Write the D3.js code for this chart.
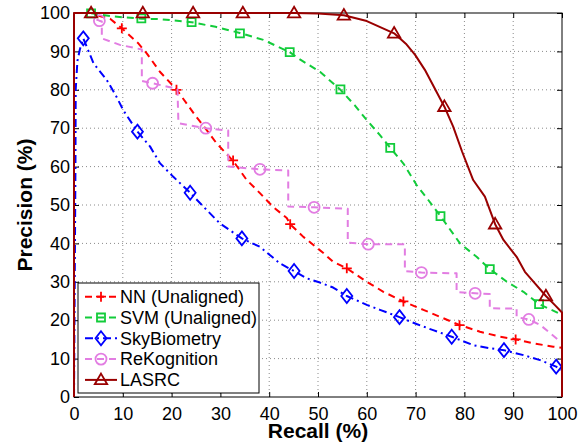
<!DOCTYPE html>
<html>
<head>
<meta charset="utf-8">
<script src="https://cdn.jsdelivr.net/npm/d3@7"></script>
<style>
  html, body { margin: 0; padding: 0; background: #fff; }
  svg { display: block; font-family: "Liberation Sans", Arial, Helvetica, sans-serif; }
</style>
</head>
<body>
<svg id="chart" width="583" height="444"></svg>
<script>
// Tick values for both axes
const xTicks = [0, 10, 20, 30, 40, 50, 60, 70, 80, 90, 100];
const yTicks = [0, 10, 20, 30, 40, 50, 60, 70, 80, 90, 100];

// Series names (legend order = drawing order)
const seriesNames = ["NN (Unaligned)", "SVM (Unaligned)", "SkyBiometry", "ReKognition", "LASRC"];

// Precision-recall curves: [recall %, precision %]
const nnCurve = [[5.0,99.3],[7.4,98.5],[9.8,96.0],[13.1,92.2],[14.9,89.5],[17.6,84.7],[21.0,80.1],[24.8,73.4],
  [27.2,69.5],[29.2,66.1],[32.6,61.5],[35.4,56.5],[38.1,53.1],[40.8,49.5],[43.6,46.6],[44.3,45.0],[47.0,41.7],
  [51.1,37.5],[53.1,35.2],[55.9,33.5],[60.0,30.0],[63.4,27.4],[67.6,24.8],[71.6,22.7],[75.7,20.5],[79.1,18.7],
  [83.2,17.0],[87.3,15.7],[90.6,15.0],[94.1,14.0],[98.2,13.1],[100,12.8]];
const nnMarks = [[9.8,96.0],[21.0,80.0],[32.6,61.6],[44.3,45.0],[55.9,33.5],[67.5,24.9],[79.0,18.7],[90.5,15.0]];

const svmCurve = [[3.5,99.9],[8.1,99.1],[13.9,98.5],[17.6,98.4],[24.1,97.6],[29.0,96.4],[34.0,94.8],[38.8,93.0],
  [44.2,89.8],[46.3,87.9],[50.4,84.7],[54.6,80.0],[57.5,76.0],[60.0,72.1],[62.7,68.2],[64.8,64.9],[67.5,60.8],
  [70.2,55.2],[72.6,51.3],[75.1,47.1],[79.1,40.0],[82.5,36.5],[85.2,33.3],[88.7,30.0],[92.1,27.4],[95.3,24.2],[100,21.4]];
const svmMarks = [[3.5,99.9],[13.8,98.6],[24.1,97.6],[34.0,94.7],[44.2,89.8],[54.6,80.1],[64.8,64.9],[75.1,47.1],[85.2,33.3],[95.3,24.2]];

const skyCurve = [[0,0],[0.3,60],[0.35,80],[0.7,87.5],[1.2,90.5],[1.9,93.4],[4.0,86.9],[6.7,82.6],[8.7,78.2],
  [10.1,74.7],[13.0,69.1],[15.6,65.2],[17.6,60.9],[20.3,57.4],[23.8,53.2],[26.5,49.6],[29.9,45.2],[34.4,41.3],
  [38.1,39.1],[42.2,34.8],[45.1,32.8],[47.7,30.9],[50.4,29.8],[53.1,28.5],[55.9,26.3],[60.0,24.0],[62.7,22.7],
  [66.7,20.8],[70.2,19.0],[73.6,17.4],[77.4,15.7],[81.8,13.5],[85.2,12.7],[88.1,12.2],[92.1,10.9],[95.5,9.6],
  [98.8,7.9],[100,7.0]];
const skyMarks = [[1.9,93.4],[13.0,69.1],[23.8,53.2],[34.4,41.3],[45.1,32.8],[55.9,26.3],[66.7,20.8],[77.4,15.7],[88.1,12.2],[98.8,7.9]];

const rekCurve = [[4.6,98.3],[5.2,98.0],[5.7,97.8],[5.7,93.4],[9.4,91.7],[13.9,90.5],[13.9,82.3],[16.1,81.7],
  [21.2,80.2],[21.4,71.3],[27.0,70.0],[31.6,69.4],[31.6,60.0],[38.1,59.3],[43.9,59.0],[43.9,49.6],[49.2,49.4],
  [56.1,49.0],[56.1,40.2],[60.3,39.8],[67.8,39.8],[67.8,32.8],[71.2,32.4],[78.4,32.2],[78.4,27.3],[82.2,27.0],
  [85.2,26.8],[85.2,23.1],[90.7,23.0],[90.7,20.8],[93.2,20.2],[95.5,18.8],[99.5,14.6]];
const rekMarks = [[5.2,98.0],[16.1,81.7],[27.0,70.0],[38.1,59.3],[49.2,49.4],[60.3,39.8],[71.2,32.4],[82.2,27.0],[93.2,20.2]];

const lasrcCurve = [[0,0],[0,100],[3.5,100],[14.1,100],[24.4,100],[34.6,100],[45.1,100],[50.0,99.9],[55.3,99.4],
  [60.0,97.9],[65.6,94.7],[68.0,92.0],[69.9,89.1],[71.9,85.2],[75.9,75.6],[77.7,70.4],[79.5,64.0],[81.8,56.5],
  [84.2,52.2],[86.3,45.0],[88.0,40.9],[90.7,36.5],[92.4,32.6],[94.5,29.5],[96.7,26.3],[98.5,24.0],[100,22.0],[100,0]];
const lasrcMarks = [[3.5,100],[14.1,100],[24.4,100],[34.6,100],[45.1,100],[55.3,99.4],[65.6,94.7],[75.9,75.6],[86.3,45.0],[96.7,26.3]];

// Visual settings per series
const series = [
  { name: seriesNames[0], curve: nnCurve,    marks: nnMarks,    color: "#ff0000", dash: "7,5",      marker: "plus" },
  { name: seriesNames[1], curve: svmCurve,   marks: svmMarks,   color: "#12cc3a", dash: "7,5",      marker: "square" },
  { name: seriesNames[2], curve: skyCurve,   marks: skyMarks,   color: "#0000ff", dash: "8,4,2,4",  marker: "diamond" },
  { name: seriesNames[3], curve: rekCurve,   marks: rekMarks,   color: "#e27de2", dash: "7,5",      marker: "circle" },
  { name: seriesNames[4], curve: lasrcCurve, marks: lasrcMarks, color: "#990000", dash: null,       marker: "triangle" }
];

const svg = d3.select("#chart");
const plotL = 74, plotR = 562, plotT = 13, plotB = 397;

const x = d3.scaleLinear().domain([0, 100]).range([plotL, plotR]);
const y = d3.scaleLinear().domain([0, 100]).range([plotB, plotT]);

// Dotted grid
const grid = svg.append("g").attr("class", "grid");
grid.selectAll("line.gx").data(xTicks.slice(1, -1)).join("line").attr("class", "gx")
  .attr("x1", d => x(d)).attr("x2", d => x(d)).attr("y1", plotT).attr("y2", plotB)
  .attr("stroke", "#8a8a8a").attr("stroke-width", 1).attr("stroke-dasharray", "1,3");
grid.selectAll("line.gy").data(yTicks.slice(1, -1)).join("line").attr("class", "gy")
  .attr("x1", plotL).attr("x2", plotR).attr("y1", d => y(d)).attr("y2", d => y(d))
  .attr("stroke", "#8a8a8a").attr("stroke-width", 1).attr("stroke-dasharray", "1,3");

// Axes with inward ticks on all four sides
const fontSize = 18;
const gx = svg.append("g").attr("transform", `translate(0,${plotB})`)
  .call(d3.axisBottom(x).tickValues(xTicks).tickSizeInner(-5).tickSizeOuter(0).tickPadding(10));
const gy = svg.append("g").attr("transform", `translate(${plotL},0)`)
  .call(d3.axisLeft(y).tickValues(yTicks).tickSizeInner(-5).tickSizeOuter(0).tickPadding(4));
const gt = svg.append("g").attr("transform", `translate(0,${plotT})`)
  .call(d3.axisTop(x).tickValues(xTicks).tickSizeInner(-5).tickSizeOuter(0).tickFormat(""));
const gr = svg.append("g").attr("transform", `translate(${plotR},0)`)
  .call(d3.axisRight(y).tickValues(yTicks).tickSizeInner(-5).tickSizeOuter(0).tickFormat(""));
[gx, gy, gt, gr].forEach(g => {
  g.select(".domain").remove();
  g.selectAll(".tick line").attr("stroke", "#000").attr("stroke-width", 1);
  g.selectAll(".tick text").attr("fill", "#000").attr("font-size", fontSize)
    .attr("font-family", "Liberation Sans, Arial, sans-serif");
});

// Plot frame
svg.append("rect").attr("x", plotL).attr("y", plotT).attr("width", plotR - plotL).attr("height", plotB - plotT)
  .attr("fill", "none").attr("stroke", "#000").attr("stroke-width", 1);

// Marker shapes
function markerPath(type) {
  switch (type) {
    case "plus": return "M-5,0H5M0,-5V5";
    case "square": return "M-4,-4H4V4H-4Z";
    case "diamond": return "M0,-7L5.5,0L0,7L-5.5,0Z";
    case "circle": return "M5.5,0A5.5,5.5 0 1,1 -5.5,0A5.5,5.5 0 1,1 5.5,0Z";
    case "triangle": return "M0,-6.3L6.2,4.3H-6.2Z";
  }
}

const line = d3.line().x(d => x(d[0])).y(d => y(d[1]));

const plot = svg.append("g").attr("class", "series");
series.forEach(s => {
  const g = plot.append("g");
  g.append("path").datum(s.curve).attr("d", line)
    .attr("fill", "none").attr("stroke", s.color).attr("stroke-width", 2)
    .attr("stroke-dasharray", s.dash).attr("stroke-linejoin", "round");
  g.selectAll("path.mk").data(s.marks).join("path").attr("class", "mk")
    .attr("transform", d => `translate(${x(d[0])},${y(d[1])})`)
    .attr("d", markerPath(s.marker))
    .attr("fill", "none").attr("stroke", s.color).attr("stroke-width", 1.8);
});

// Axis titles
svg.append("text").attr("x", (plotL + plotR) / 2).attr("y", 438)
  .attr("text-anchor", "middle").attr("font-size", 21).attr("font-weight", "bold").text("Recall (%)");
svg.append("text").attr("transform", `translate(32,${(plotT + plotB) / 2}) rotate(-90)`)
  .attr("text-anchor", "middle").attr("font-size", 21).attr("font-weight", "bold").text("Precision (%)");

// Legend
const legend = svg.append("g").attr("class", "legend");
const lgX = 78, lgY = 283, lgW = 181, lgH = 110, rowH = 20.8, firstRow = 296.7;
legend.append("rect").attr("x", lgX).attr("y", lgY).attr("width", lgW).attr("height", lgH)
  .attr("fill", "#fff").attr("stroke", "#000").attr("stroke-width", 1);
series.forEach((s, i) => {
  const cy = firstRow + i * rowH;
  legend.append("line").attr("x1", 85).attr("x2", 117).attr("y1", cy).attr("y2", cy)
    .attr("stroke", s.color).attr("stroke-width", 2).attr("stroke-dasharray", s.dash);
  legend.append("path").attr("transform", `translate(101,${cy})`).attr("d", markerPath(s.marker))
    .attr("fill", "none").attr("stroke", s.color).attr("stroke-width", 1.8);
  legend.append("text").attr("x", 120).attr("y", cy).attr("dy", "0.35em")
    .attr("font-size", fontSize).attr("fill", "#000").text(s.name);
});
</script>
</body>
</html>
